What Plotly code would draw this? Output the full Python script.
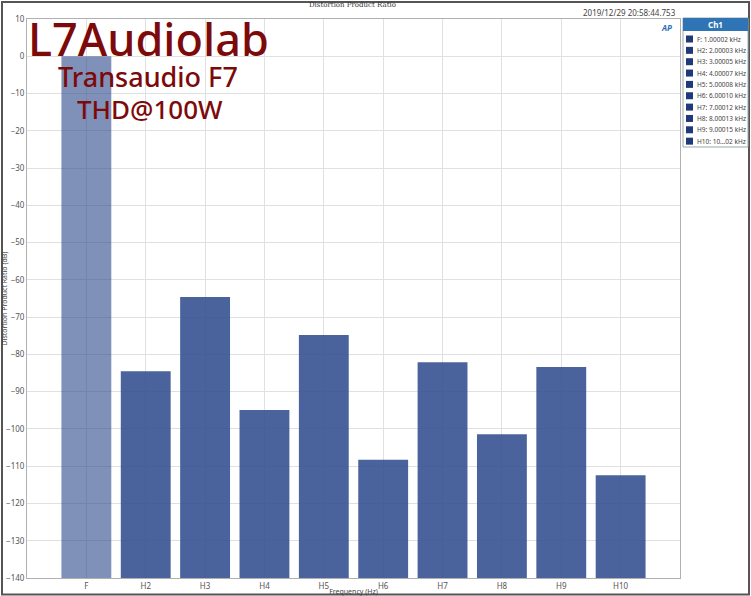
import plotly.graph_objects as go

categories = ["F", "H2", "H3", "H4", "H5", "H6", "H7", "H8", "H9", "H10"]
levels_db = [0.0, -84.5, -64.6, -94.9, -74.8, -108.3, -82.1, -101.4, -83.4, -112.4]
legend_labels = ["F: 1.00002 kHz", "H2: 2.00003 kHz", "H3: 3.00005 kHz", "H4: 4.00007 kHz",
                 "H5: 5.00008 kHz", "H6: 6.00010 kHz", "H7: 7.00012 kHz", "H8: 8.00013 kHz",
                 "H9: 9.00015 kHz", "H10: 10...02 kHz"]
y_ticks = [10, 0, -10, -20, -30, -40, -50, -60, -70, -80, -90, -100, -110, -120, -130, -140]
floor_db = -140

W, H = 751, 596
L, R, T, B = 27, 71, 19, 18
PW, PH = W - L - R, H - T - B

def px(x):
    return (x - L) / PW

def py(y):
    return 1 - (y - T) / PH

bar_colors = ["rgba(50,77,142,0.62)"] + ["rgba(50,77,142,0.88)"] * (len(categories) - 1)

fig = go.Figure()
fig.add_trace(go.Bar(
    x=categories,
    y=[v - floor_db for v in levels_db],
    base=floor_db,
    width=0.84,
    marker=dict(color=bar_colors, line=dict(width=0)),
    showlegend=False,
))

axis_font = dict(family="Noto Sans", size=8, color="#555")
fig.update_layout(
    width=W, height=H,
    margin=dict(l=L, r=R, t=T, b=B),
    paper_bgcolor="white", plot_bgcolor="white",
    bargap=0.16,
    xaxis=dict(range=[-1, 10], tickfont=axis_font, showgrid=True, gridcolor="#e0e0e0",
               showline=True, linecolor="#b0b0b0", linewidth=1, mirror=True, ticks="",
               tickangle=0, automargin=False,
               title=dict(text="Frequency (Hz)", font=dict(family="Noto Sans", size=7, color="#444"), standoff=0)),
    yaxis=dict(range=[floor_db, 10], tickvals=y_ticks, tickfont=axis_font, showgrid=True,
               gridcolor="#e0e0e0", zeroline=False, showline=True, linecolor="#b0b0b0",
               linewidth=1, mirror=True, ticks="", automargin=False,
               title=dict(text="Distortion Product Ratio (dB)", font=dict(family="Noto Sans", size=7, color="#444"), standoff=2)),
)

shapes = []
annotations = []
# outer frame
shapes.append(dict(type="rect", xref="paper", yref="paper", x0=px(2), x1=px(749), y0=py(594.5), y1=py(2),
                   line=dict(color="#555", width=2), fillcolor="rgba(0,0,0,0)", layer="above"))
# chart title
annotations.append(dict(text="Distortion Product Ratio", xref="paper", yref="paper", x=px(352), y=py(5),
                        showarrow=False, font=dict(family="DejaVu Serif", size=7, color="#333"),
                        xanchor="center", yanchor="middle"))
# timestamp
annotations.append(dict(text="2019/12/29 20:58:44.753", xref="paper", yref="paper", x=px(678), y=py(13),
                        showarrow=False, font=dict(family="Noto Sans", size=8, color="#444"),
                        xanchor="right", yanchor="middle"))
# AP logo
annotations.append(dict(text="<b><i>AP</i></b>", xref="paper", yref="paper", x=px(666), y=py(28),
                        showarrow=False, font=dict(family="Noto Sans", size=8, color="#2d6fb8"),
                        xanchor="center", yanchor="middle"))
# watermark texts
wm = dict(family="Noto Sans", color="#7d0a0a", weight=500)
annotations.append(dict(text="L7Audiolab", xref="paper", yref="paper", x=px(148), y=py(38),
                        showarrow=False, font=dict(size=45, **wm),
                        xanchor="center", yanchor="middle"))
annotations.append(dict(text="Transaudio F7", xref="paper", yref="paper", x=px(148), y=py(76.5),
                        showarrow=False, font=dict(size=27, **wm),
                        xanchor="center", yanchor="middle"))
annotations.append(dict(text="THD@100W", xref="paper", yref="paper", x=px(150), y=py(108.5),
                        showarrow=False, font=dict(size=26, **wm),
                        xanchor="center", yanchor="middle"))
# legend box
shapes.append(dict(type="rect", xref="paper", yref="paper", x0=px(683), x1=px(748), y0=py(147), y1=py(18),
                   line=dict(color="#9aa", width=1), fillcolor="white"))
shapes.append(dict(type="rect", xref="paper", yref="paper", x0=px(683), x1=px(748), y0=py(31), y1=py(18),
                   line=dict(width=0), fillcolor="#2f74b5"))
annotations.append(dict(text="<b>Ch1</b>", xref="paper", yref="paper", x=px(715.5), y=py(24.5),
                        showarrow=False, font=dict(family="Noto Sans", size=8, color="white"),
                        xanchor="center", yanchor="middle"))
for i, lab in enumerate(legend_labels):
    yc = 39 + i * 11.35
    shapes.append(dict(type="rect", xref="paper", yref="paper", x0=px(686), x1=px(693),
                       y0=py(yc + 3.5), y1=py(yc - 3.5), line=dict(width=0), fillcolor="#1f3a78"))
    annotations.append(dict(text=lab, xref="paper", yref="paper", x=px(695), y=py(yc),
                            showarrow=False, font=dict(family="Noto Sans", size=6.5, color="#444"),
                            xanchor="left", yanchor="middle"))

fig.update_layout(shapes=shapes, annotations=annotations)
fig.write_html("out.html", config={"displayModeBar": False},
               post_script="document.body.style.margin='0';document.body.style.overflow='hidden';")
